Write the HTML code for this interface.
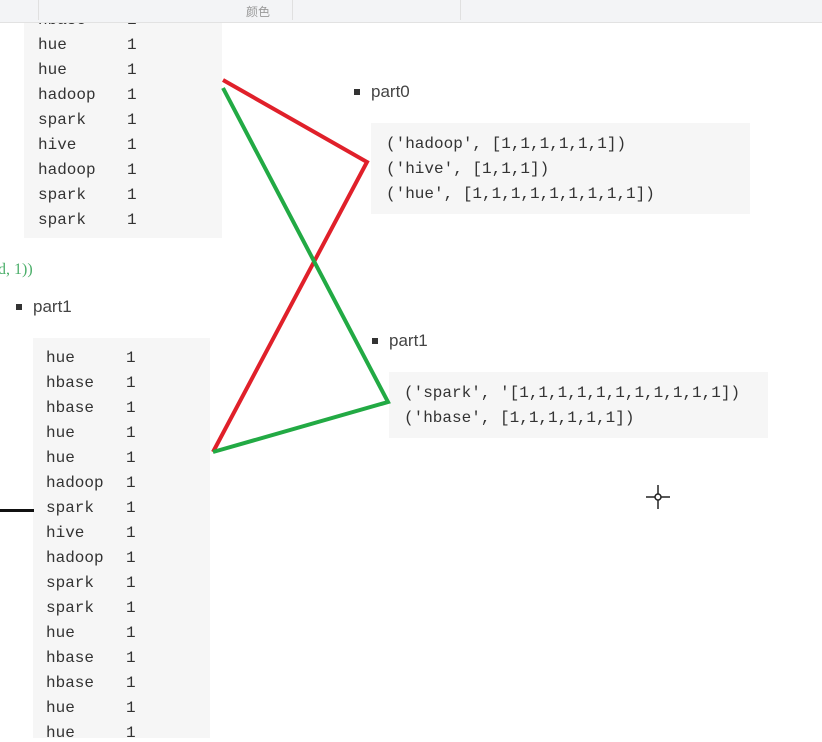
<!DOCTYPE html>
<html><head><meta charset="utf-8"><style>
body{margin:0;width:822px;height:736px;overflow:hidden;background:#fff;position:relative;font-family:"Liberation Sans","Noto Sans CJK SC",sans-serif}
.abs{position:absolute}
.code{position:absolute;background:#f6f6f6;font-family:"Liberation Mono",monospace;font-size:16px;color:#333}
.row{position:absolute;white-space:pre}
.n{position:absolute}
.bul{position:absolute;font-size:17px;color:#444}
.bul:before{content:"";position:absolute;left:-17px;top:7px;width:6px;height:6px;background:#333}
</style></head><body>
<div class="code" style="left:24px;top:0;width:198px;height:238px">
<div class="row" style="left:14px;top:11px">hbase<span class="n" style="left:89px">1</span></div>
<div class="row" style="left:14px;top:36px">hue<span class="n" style="left:89px">1</span></div>
<div class="row" style="left:14px;top:61px">hue<span class="n" style="left:89px">1</span></div>
<div class="row" style="left:14px;top:86px">hadoop<span class="n" style="left:89px">1</span></div>
<div class="row" style="left:14px;top:111px">spark<span class="n" style="left:89px">1</span></div>
<div class="row" style="left:14px;top:136px">hive<span class="n" style="left:89px">1</span></div>
<div class="row" style="left:14px;top:161px">hadoop<span class="n" style="left:89px">1</span></div>
<div class="row" style="left:14px;top:186px">spark<span class="n" style="left:89px">1</span></div>
<div class="row" style="left:14px;top:211px">spark<span class="n" style="left:89px">1</span></div>
</div>
<div class="abs" style="left:0;top:0;width:822px;height:22px;background:#f3f4f6;border-bottom:1px solid #e2e2e2;z-index:5"></div>
<div class="abs" style="left:38px;top:0;width:1px;height:20px;background:#e0e0e0;z-index:6"></div>
<div class="abs" style="left:292px;top:0;width:1px;height:20px;background:#e0e0e0;z-index:6"></div>
<div class="abs" style="left:460px;top:0;width:1px;height:20px;background:#e0e0e0;z-index:6"></div>
<div class="abs" style="left:246px;top:3px;font-size:12px;color:#999;z-index:6">颜色</div>

<div class="abs" style="left:-2px;top:261px;font-family:'Liberation Serif',serif;font-size:16px;color:#4caf6a">d, 1))</div>
<div class="bul" style="left:33px;top:297px">part1</div>
<div class="code" style="left:33px;top:338px;width:177px;height:400px">
<div class="row" style="left:13px;top:11px">hue<span class="n" style="left:80px">1</span></div>
<div class="row" style="left:13px;top:36px">hbase<span class="n" style="left:80px">1</span></div>
<div class="row" style="left:13px;top:61px">hbase<span class="n" style="left:80px">1</span></div>
<div class="row" style="left:13px;top:86px">hue<span class="n" style="left:80px">1</span></div>
<div class="row" style="left:13px;top:111px">hue<span class="n" style="left:80px">1</span></div>
<div class="row" style="left:13px;top:136px">hadoop<span class="n" style="left:80px">1</span></div>
<div class="row" style="left:13px;top:161px">spark<span class="n" style="left:80px">1</span></div>
<div class="row" style="left:13px;top:186px">hive<span class="n" style="left:80px">1</span></div>
<div class="row" style="left:13px;top:211px">hadoop<span class="n" style="left:80px">1</span></div>
<div class="row" style="left:13px;top:236px">spark<span class="n" style="left:80px">1</span></div>
<div class="row" style="left:13px;top:261px">spark<span class="n" style="left:80px">1</span></div>
<div class="row" style="left:13px;top:286px">hue<span class="n" style="left:80px">1</span></div>
<div class="row" style="left:13px;top:311px">hbase<span class="n" style="left:80px">1</span></div>
<div class="row" style="left:13px;top:336px">hbase<span class="n" style="left:80px">1</span></div>
<div class="row" style="left:13px;top:361px">hue<span class="n" style="left:80px">1</span></div>
<div class="row" style="left:13px;top:386px">hue<span class="n" style="left:80px">1</span></div>
</div>
<div class="abs" style="left:0;top:509px;width:34px;height:3px;background:#111"></div>

<div class="bul" style="left:371px;top:82px">part0</div>
<div class="code" style="left:371px;top:123px;width:379px;height:91px">
<div class="row" style="left:15px;top:12px">('hadoop', [1,1,1,1,1,1])</div>
<div class="row" style="left:15px;top:37px">('hive', [1,1,1])</div>
<div class="row" style="left:15px;top:62px">('hue', [1,1,1,1,1,1,1,1,1])</div>
</div>
<div class="bul" style="left:389px;top:331px">part1</div>
<div class="code" style="left:389px;top:372px;width:379px;height:66px">
<div class="row" style="left:15px;top:12px">('spark', '[1,1,1,1,1,1,1,1,1,1,1])</div>
<div class="row" style="left:15px;top:37px">('hbase', [1,1,1,1,1,1])</div>
</div>

<svg class="abs" style="left:0;top:0" width="822" height="736">
<polyline points="223,80 367,162 213,452" fill="none" stroke="#e0202a" stroke-width="4"/>
<polyline points="223,88 388,402 213,452" fill="none" stroke="#22aa44" stroke-width="4"/>
<g stroke="#222" stroke-width="1.5">
<line x1="646" y1="497" x2="670" y2="497"/><line x1="658" y1="485" x2="658" y2="509"/>
<circle cx="658" cy="497" r="3" fill="#fff"/></g>
</svg>
</body></html>
